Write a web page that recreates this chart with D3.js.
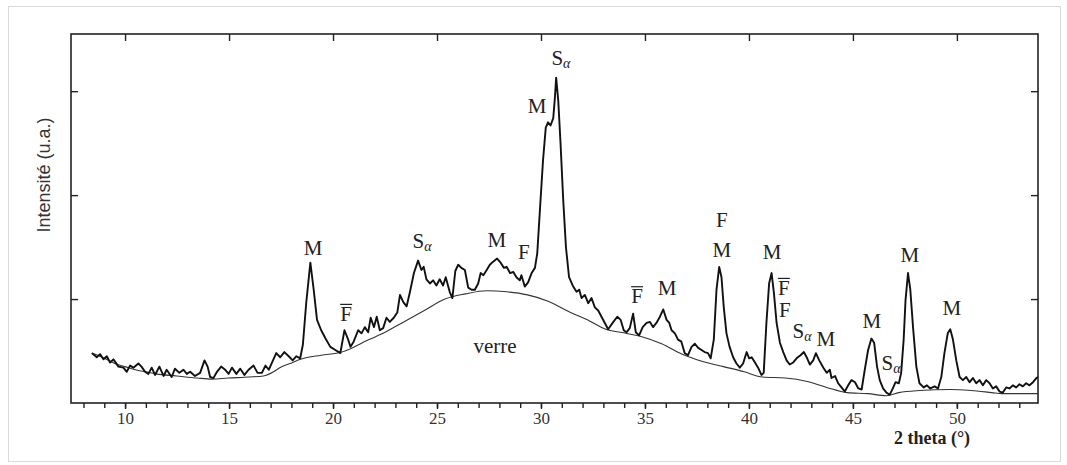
<!DOCTYPE html>
<html>
<head>
<meta charset="utf-8">
<script src="https://cdn.jsdelivr.net/npm/d3@7"></script>
<style>
  body { margin: 0; background: #fff; }
  svg { display: block; }
</style>
</head>
<body>
<svg id="chart"></svg>
<script>
// measured trace, [2 theta, intensity (a.u.)]
const pattern = [
  [8.40,48],[8.64,44],[8.80,47],[8.96,42],[9.12,45],[9.28,39],[9.44,42],[9.68,35],[9.92,34],
  [10.08,30],[10.24,36],[10.40,34],[10.64,38],[10.79,35],[10.96,30],[11.12,28],[11.28,34],
  [11.44,27],[11.65,35],[11.85,26],[12.00,32],[12.24,25],[12.40,33],[12.61,29],[12.81,32],
  [12.97,28],[13.13,30],[13.36,26],[13.61,29],[13.82,41],[13.97,35],[14.09,25],[14.25,24],
  [14.42,30],[14.62,35],[14.81,32],[14.98,28],[15.14,34],[15.35,28],[15.54,33],[15.74,27],
  [15.94,32],[16.18,36],[16.37,29],[16.58,29],[16.75,36],[16.91,32],[17.07,39],[17.27,48],
  [17.46,44],[17.66,49],[17.87,45],[18.06,41],[18.24,45],[18.42,43],[18.55,56],[18.71,96],
  [18.91,135],[19.07,109],[19.23,80],[19.43,70],[19.64,62],[19.87,54],[20.11,51],[20.35,48],
  [20.55,70],[20.71,62],[20.84,54],[20.99,59],[21.21,70],[21.37,67],[21.53,73],[21.69,68],
  [21.81,82],[21.97,73],[22.10,83],[22.25,70],[22.41,72],[22.57,82],[22.73,78],[22.92,82],
  [23.09,87],[23.22,104],[23.38,97],[23.54,93],[23.69,106],[23.89,125],[24.09,137],[24.25,128],
  [24.36,131],[24.49,119],[24.66,115],[24.81,118],[24.97,113],[25.13,119],[25.29,113],[25.42,121],
  [25.61,107],[25.74,101],[25.88,127],[26.02,133],[26.17,130],[26.34,128],[26.50,111],[26.66,109],
  [26.82,109],[26.98,115],[27.10,125],[27.23,123],[27.39,128],[27.54,133],[27.70,136],[27.89,139],
  [28.06,135],[28.22,130],[28.35,131],[28.51,125],[28.67,126],[28.82,121],[28.98,118],[29.06,123],
  [29.22,112],[29.38,116],[29.55,125],[29.71,130],[29.82,144],[29.95,186],[30.10,234],[30.23,265],
  [30.34,270],[30.46,267],[30.59,274],[30.67,294],[30.73,313],[30.83,291],[30.94,250],[31.07,195],
  [31.20,150],[31.35,121],[31.55,112],[31.71,107],[31.84,109],[31.95,101],[32.11,104],[32.27,96],
  [32.43,101],[32.59,92],[32.75,89],[32.91,83],[33.07,77],[33.23,71],[33.48,78],[33.67,83],
  [33.83,80],[33.98,70],[34.11,68],[34.27,72],[34.43,86],[34.56,68],[34.72,65],[34.89,73],
  [35.08,77],[35.24,78],[35.39,73],[35.55,77],[35.72,83],[35.88,90],[36.04,80],[36.17,77],
  [36.28,70],[36.44,67],[36.59,61],[36.75,59],[36.91,48],[37.07,46],[37.24,54],[37.40,57],
  [37.56,53],[37.72,51],[37.87,49],[38.03,48],[38.16,43],[38.31,61],[38.44,109],[38.57,131],
  [38.68,121],[38.79,92],[38.92,67],[39.07,54],[39.24,44],[39.40,38],[39.56,34],[39.72,38],
  [39.89,49],[40.01,43],[40.13,44],[40.29,39],[40.44,34],[40.60,27],[40.71,29],[40.84,77],
  [40.97,115],[41.09,125],[41.20,106],[41.33,77],[41.49,58],[41.65,49],[41.81,41],[41.96,37],
  [42.13,39],[42.29,43],[42.48,46],[42.64,49],[42.80,43],[42.93,37],[43.09,41],[43.22,48],
  [43.38,41],[43.58,34],[43.74,29],[43.89,32],[43.97,24],[44.14,26],[44.29,19],[44.45,15],
  [44.61,11],[44.77,17],[44.93,22],[45.10,20],[45.26,14],[45.42,13],[45.57,32],[45.73,51],
  [45.89,62],[46.02,58],[46.16,35],[46.29,22],[46.45,14],[46.61,10],[46.77,8],[46.92,14],
  [47.05,20],[47.21,19],[47.32,29],[47.44,61],[47.53,99],[47.65,125],[47.76,109],[47.89,73],
  [48.05,35],[48.20,19],[48.40,15],[48.56,17],[48.72,14],[48.93,16],[49.09,14],[49.25,25],
  [49.40,48],[49.56,67],[49.68,71],[49.81,61],[49.97,41],[50.13,25],[50.29,22],[50.45,25],
  [50.61,20],[50.77,24],[50.93,19],[51.09,22],[51.25,17],[51.41,22],[51.57,19],[51.73,14],
  [51.89,16],[52.05,11],[52.21,10],[52.37,15],[52.53,14],[52.69,17],[52.85,15],[53.01,18],
  [53.17,16],[53.33,19],[53.49,17],[53.66,20],[53.82,24],[53.90,25]
];

// amorphous (glass) background under the trace
const glass = [
  [8.41,48],[9.01,43],[9.50,38],[10.0,35],[10.5,32],[10.99,30],[11.49,28],[12.48,26],
  [13.47,24],[14.17,23],[14.96,24],[15.95,25],[16.65,26],[17.14,30],[17.44,34],[17.94,38],
  [18.43,42],[19.43,46],[20.42,49],[20.92,53],[21.41,58],[22.40,67],[23.40,78],[24.39,89],
  [25.38,100],[26.37,105],[27.37,108],[28.36,107],[29.35,104],[30.34,98],[31.33,88],[32.33,79],
  [33.12,71],[33.82,68],[34.81,64],[35.80,57],[36.79,47],[37.78,40],[38.78,35],[39.77,30],
  [40.66,25],[41.75,24],[42.75,21],[43.74,15],[44.73,10],[45.72,9],[46.61,7],[47.21,10],
  [48.20,12],[49.69,13],[50.68,12],[51.68,10],[52.17,9],[53.90,9]
];

const majorTicks = [10, 15, 20, 25, 30, 35, 40, 45, 50];
const minorTicks = d3.range(8, 54);
const intensityTicks = [100, 200, 300];

// phase labels: phase, 2 theta, intensity of label baseline
const peakLabels = [
  ["M", 19.04, 142], ["Fbar", 20.63, 79], ["Sa", 24.28, 149], ["M", 27.88, 150],
  ["F", 29.18, 139], ["M", 29.81, 279], ["Sa", 30.96, 325], ["Fbar", 34.62, 96],
  ["M", 36.06, 104], ["F", 38.70, 169], ["M", 38.70, 140], ["M", 41.11, 139],
  ["Fbar", 41.68, 104], ["F", 41.73, 83], ["Sa", 42.55, 63], ["M", 43.70, 55],
  ["M", 45.91, 72], ["Sa", 46.83, 32], ["M", 47.74, 136], ["M", 49.76, 85]
];

const serif = "'Liberation Serif', 'Times New Roman', serif";
const width = 1067, height = 465;
const margin = {top: 34, right: 29, bottom: 62, left: 71};

const svg = d3.select("#chart").attr("width", width).attr("height", height);

// dotted outer frame of the figure
svg.append("rect")
  .attr("x", 8.5).attr("y", 6.5).attr("width", 1052).attr("height", 455)
  .attr("fill", "none").attr("stroke", "#b5b5b5").attr("stroke-dasharray", "1,1");

const x = d3.scaleLinear().domain([7.4, 53.9]).range([margin.left, width - margin.right]);
const y = d3.scaleLinear().domain([0, 355]).range([height - margin.bottom, margin.top]);

const plotW = x.range()[1] - x.range()[0];
const plotH = y.range()[0] - y.range()[1];

// axes (ticks only, the frame is drawn as a rect)
const gMinor = svg.append("g").attr("transform", `translate(0,${y(0)})`)
  .call(d3.axisBottom(x).tickValues(minorTicks).tickSize(5).tickFormat(""));
const gBottom = svg.append("g").attr("transform", `translate(0,${y(0)})`)
  .call(d3.axisBottom(x).tickValues(majorTicks).tickSize(6).tickPadding(3));
const gTop = svg.append("g").attr("transform", `translate(0,${y.range()[1]})`)
  .call(d3.axisTop(x).tickValues(majorTicks).tickSize(-7).tickFormat(""));
const gLeft = svg.append("g").attr("transform", `translate(${x.range()[0]},0)`)
  .call(d3.axisLeft(y).tickValues(intensityTicks).tickSize(-7).tickFormat(""));
const gRight = svg.append("g").attr("transform", `translate(${x.range()[1]},0)`)
  .call(d3.axisRight(y).tickValues(intensityTicks).tickSize(-7).tickFormat(""));

[gMinor, gBottom, gTop, gLeft, gRight].forEach(g => {
  g.select(".domain").remove();
  g.selectAll("line").attr("stroke", "#222").attr("stroke-width", 1.4);
});
gBottom.attr("font-family", serif).attr("font-size", 17);
gBottom.selectAll("text").attr("fill", "#333");

svg.append("rect")
  .attr("x", x.range()[0]).attr("y", y.range()[1])
  .attr("width", plotW).attr("height", plotH)
  .attr("fill", "none").attr("stroke", "#222").attr("stroke-width", 1.6);

// glass background
svg.append("path")
  .datum(glass)
  .attr("fill", "none")
  .attr("stroke", "#333")
  .attr("stroke-width", 1.1)
  .attr("d", d3.line().x(d => x(d[0])).y(d => y(d[1])).curve(d3.curveMonotoneX));

// diffraction trace
svg.append("path")
  .datum(pattern)
  .attr("fill", "none")
  .attr("stroke", "#111")
  .attr("stroke-width", 1.9)
  .attr("stroke-linejoin", "round")
  .attr("d", d3.line().x(d => x(d[0])).y(d => y(d[1])));

// phase labels
const labels = svg.append("g").attr("font-family", serif).attr("fill", "#222");
peakLabels.forEach(([phase, tt, val]) => {
  const t = labels.append("text")
    .attr("x", x(tt)).attr("y", y(val))
    .attr("text-anchor", "middle")
    .attr("font-size", 21);
  if (phase === "Sa") {
    t.append("tspan").text("S");
    t.append("tspan").text("α").attr("font-size", 14).attr("font-style", "italic").attr("dy", 3);
  } else if (phase === "Fbar") {
    t.text("F");
    labels.append("line")
      .attr("x1", x(tt) - 6).attr("x2", x(tt) + 6)
      .attr("y1", y(val) - 16.5).attr("y2", y(val) - 16.5)
      .attr("stroke", "#222").attr("stroke-width", 1.2);
  } else {
    t.text(phase);
  }
});

labels.append("text")
  .attr("x", x(27.79)).attr("y", y(48))
  .attr("text-anchor", "middle")
  .attr("font-size", 21)
  .text("verre");

// axis titles
svg.append("text")
  .attr("x", 932).attr("y", 444)
  .attr("text-anchor", "middle")
  .attr("font-family", serif)
  .attr("font-size", 18)
  .attr("font-weight", "bold")
  .attr("fill", "#222")
  .text("2 theta (°)");

svg.append("text")
  .attr("transform", "translate(50,175) rotate(-90)")
  .attr("text-anchor", "middle")
  .attr("font-family", "'Liberation Sans', Arial, sans-serif")
  .attr("font-size", 18)
  .attr("fill", "#333")
  .text("Intensité (u.a.)");
</script>
</body>
</html>
